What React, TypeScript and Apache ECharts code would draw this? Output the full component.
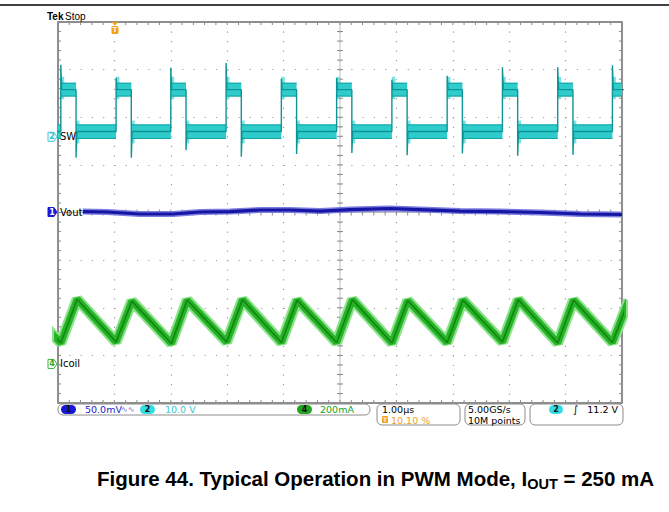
import React, { useEffect, useRef } from "react";
import * as echarts from "echarts";

// ---------------- Screen / scope set-up ----------------
const W = 669;
const H = 512;
const GRID = { left: 58, top: 22, width: 564, height: 381 };
// horizontal axis: time in µs (1.00 µs/div, 10 divisions)
const X_MIN = -5;
const X_MAX = 5;
// vertical axis: screen divisions (8 divisions)
const Y_MIN = -4;
const Y_MAX = 4;
const MINOR_STEP = 0.2; // graticule minor ticks (1/5 div)

// channel scales (from the status bar)
const CH1_SCALE_MV = 50; // 50.0 mV/div
const CH2_SCALE_V = 10; // 10.0 V/div
const CH4_SCALE_MA = 200; // 200 mA/div

// channel markers
const channelNumbers = ["2", "1", "4"];
const channelNames = ["SW", "Vout", "Icoil"];
const channelOffsetsDiv = [1.59, 0.01, -3.18];

const triggerTime = -3.99; // µs (10.10 % of record)

// ---------------- Ch2: SW node (V) ----------------
const swRiseTimes = [-4.95, -3.97, -3.0, -2.02, -1.04, -0.06, 0.92, 1.9, 2.88, 3.86, 4.83];
const swFallTimes = [-4.68, -3.7, -2.73, -1.75, -0.77, 0.21, 1.19, 2.17, 3.15, 4.13, 5.11];
const swOvershootV = [15.1, 12.4, 14.5, 15.5, 12.2, 12.4, 12.0, 12.8, 14.6, 14.6, 15.0];
const swUndershootV = [-4.4, -4.4, -2.8, -4.2, -3.6, -3.4, -3.9, -3.5, -4.0, -3.8, -3.8];
const swHighV = 9.9;
const swLowV = 1.1;
const swHighBandV = [8.45, 11.35];
const swLowBandV = [-0.45, 2.6];
const swHighRingBandV = [7.9, 12.6];
const swLowRingBandV = [-1.4, 3.4];
const swRingTime = 0.06;

// ---------------- Ch1: Vout ripple (mV) ----------------
const voutTimes = [-4.56, -4.13, -3.55, -2.96, -2.48, -1.95, -1.42, -0.89, -0.35, 0.18, 0.89, 1.42, 2.13, 2.84, 3.55, 4.26, 5.0];
const voutMv = [0.5, 0, -2.1, -2.1, 0, 0.5, 2.1, 2.1, 1.0, 2.6, 3.7, 2.6, 1.0, 0.5, -0.5, -2.1, -2.6];

// ---------------- Ch4: inductor current (mA) ----------------
const coilPeakTimes = [-5.67, -4.66, -3.69, -2.71, -1.73, -0.76, 0.22, 1.2, 2.18, 3.16, 4.14, 5.12];
const coilPeakMa = [268, 272, 264, 268, 270, 268, 270, 266, 268, 270, 268, 268];
const coilValleyTimes = [-4.95, -3.97, -2.99, -2.01, -1.04, -0.06, 0.92, 1.9, 2.88, 3.86, 4.83];
const coilValleyMa = [88, 92, 86, 92, 90, 90, 88, 90, 92, 88, 90];

// ---------------- conversions to screen divisions ----------------
const swDiv = (v: number) => channelOffsetsDiv[0] + v / CH2_SCALE_V;
const voutDiv = (mv: number) => channelOffsetsDiv[1] + mv / CH1_SCALE_MV;
const coilDiv = (ma: number) => channelOffsetsDiv[2] + ma / CH4_SCALE_MA;

// SW trace (thin line through the edges and spikes)
const swLine: number[][] = [[-5.3, swDiv(swLowV)]];
swRiseTimes.forEach((r, i) => {
  swLine.push([r, swDiv(swLowV)]);
  swLine.push([r, swDiv(swOvershootV[i])]);
  swLine.push([r + 0.015, swDiv(swHighV)]);
  const f = swFallTimes[i];
  swLine.push([f, swDiv(swHighV)]);
  swLine.push([f, swDiv(swUndershootV[i])]);
  swLine.push([f + 0.015, swDiv(swLowV)]);
});

// SW noise bands: [t0, t1, divLow, divHigh, kind]  kind 0 = plateau, 1 = ringing
const swBands: number[][] = [[-5.3, swRiseTimes[0], swDiv(swLowBandV[0]), swDiv(swLowBandV[1]), 0]];
swRiseTimes.forEach((r, i) => {
  const f = swFallTimes[i];
  const next = i + 1 < swRiseTimes.length ? swRiseTimes[i + 1] : 5.3;
  swBands.push([r, r + swRingTime, swDiv(swHighRingBandV[0]), swDiv(swHighRingBandV[1]), 1]);
  swBands.push([f, f + swRingTime, swDiv(swLowRingBandV[0]), swDiv(swLowRingBandV[1]), 1]);
  swBands.push([r, f, swDiv(swHighBandV[0]), swDiv(swHighBandV[1]), 0]);
  swBands.push([f, next, swDiv(swLowBandV[0]), swDiv(swLowBandV[1]), 0]);
});

const voutData = voutTimes.map((t, i) => [t, voutDiv(voutMv[i])]);

const coilData: number[][] = [];
coilPeakTimes.forEach((t, i) => {
  coilData.push([t, coilDiv(coilPeakMa[i])]);
  if (i < coilValleyTimes.length) coilData.push([coilValleyTimes[i], coilDiv(coilValleyMa[i])]);
});

// ---------------- styles ----------------
const SW_FILL = "#2fcccc";
const SW_RING = "#5fdede";
const SW_EDGE = "#13a3a3";
const SW_DARK = "#0e9494";
const VOUT_CORE = "#1616a4";
const VOUT_HALO = "#7d7de0";
const COIL_HALO = "#8ee28e";
const COIL_MAIN = "#26b426";
const COIL_CORE = "#138313";
const ORANGE = "#f3a21c";
const markerFill = ["#effcfd", "#1a1ad8", "#ffffff"];
const markerStroke = ["#3cc8dc", "#1a1ad8", "#3cb43c"];
const markerText = ["#2fbfd6", "#ffffff", "#2eaa2e"];

const UI_FONT = "DejaVu Sans";

function graticuleItem(params: any, api: any) {
  const cs = params.coordSys;
  const children: any[] = [];
  const c = api.coord([0, 0]);
  const t = 3;
  const ls = { stroke: "#bdbdbd", lineWidth: 1 };
  const ts = { stroke: "#8a8a8a", lineWidth: 1 };
  const line = (x1: number, y1: number, x2: number, y2: number, style: any) =>
    children.push({ type: "line", shape: { x1, y1, x2, y2 }, style });
  line(c[0], cs.y, c[0], cs.y + cs.height, ls);
  line(cs.x, c[1], cs.x + cs.width, c[1], ls);
  const nx = Math.round((X_MAX - X_MIN) / MINOR_STEP);
  for (let k = 0; k <= nx; k++) {
    const p = api.coord([X_MIN + k * MINOR_STEP, 0]);
    line(p[0], c[1] - t, p[0], c[1] + t, ts);
    line(p[0], cs.y, p[0], cs.y + t, ts);
    line(p[0], cs.y + cs.height - t, p[0], cs.y + cs.height, ts);
  }
  const ny = Math.round((Y_MAX - Y_MIN) / MINOR_STEP);
  for (let k = 0; k <= ny; k++) {
    const p = api.coord([0, Y_MIN + k * MINOR_STEP]);
    line(c[0] - t, p[1], c[0] + t, p[1], ts);
    line(cs.x, p[1], cs.x + t, p[1], ts);
    line(cs.x + cs.width - t, p[1], cs.x + cs.width, p[1], ts);
  }
  return { type: "group", children };
}

function bandItem(params: any, api: any) {
  const p0 = api.coord([api.value(0), api.value(3)]);
  const p1 = api.coord([api.value(1), api.value(2)]);
  const kind = api.value(4);
  const rect = echarts.graphic.clipRectByRect(
    { x: p0[0], y: p0[1], width: p1[0] - p0[0], height: p1[1] - p0[1] },
    params.coordSys
  );
  if (!rect) return null;
  if (kind === 1) {
    return { type: "rect", shape: rect, style: { fill: SW_RING, opacity: 0.85 } };
  }
  return {
    type: "group",
    children: [
      { type: "rect", shape: rect, style: { fill: SW_FILL } },
      { type: "line", shape: { x1: rect.x, y1: rect.y + 0.5, x2: rect.x + rect.width, y2: rect.y + 0.5 }, style: { stroke: SW_EDGE, lineWidth: 1 } },
      { type: "line", shape: { x1: rect.x, y1: rect.y + rect.height - 0.5, x2: rect.x + rect.width, y2: rect.y + rect.height - 0.5 }, style: { stroke: SW_EDGE, lineWidth: 1 } },
    ],
  };
}

function markerItem(params: any, api: any) {
  const i = params.dataIndex;
  const p = api.coord([api.value(0), api.value(1)]);
  const x = p[0];
  const y = p[1];
  return {
    type: "group",
    children: [
      {
        type: "polygon",
        shape: { points: [[x - 10, y - 4.5], [x - 4, y - 4.5], [x - 1, y], [x - 4, y + 4.5], [x - 10, y + 4.5]] },
        style: { fill: markerFill[i], stroke: markerStroke[i], lineWidth: 1 },
      },
      {
        type: "text",
        x: x - 6,
        y: y,
        style: { text: channelNumbers[i], fill: markerText[i], font: `bold 8px ${UI_FONT}`, align: "center", verticalAlign: "middle" },
      },
      {
        type: "text",
        x: x + 2,
        y: y,
        style: { text: channelNames[i], fill: "#000", font: `10px ${UI_FONT}`, align: "left", verticalAlign: "middle" },
      },
    ],
  };
}

function triggerItem(params: any, api: any) {
  const p = api.coord([api.value(0), Y_MAX]);
  const x = p[0];
  const y = p[1];
  return {
    type: "group",
    children: [
      { type: "polygon", shape: { points: [[x - 3.5, y], [x + 3.5, y], [x, y + 3.5]] }, style: { fill: ORANGE } },
      { type: "rect", shape: { x: x - 3.5, y: y + 4, width: 7, height: 8, r: 1.5 }, style: { fill: ORANGE } },
      { type: "text", x: x, y: y + 8.2, style: { text: "T", fill: "#fff3d6", font: `bold 7px ${UI_FONT}`, align: "center", verticalAlign: "middle" } },
    ],
  };
}

const txt = (x: number, y: number, text: string, fill: string, size = 9.5, align = "left", weight = "normal", family = UI_FONT) => ({
  type: "text",
  x,
  y,
  style: { text, fill, font: `${weight} ${size}px ${family}`, align, verticalAlign: "middle" },
});
const box = (x: number, y: number, w: number, h: number) => ({
  type: "rect",
  shape: { x, y, width: w, height: h, r: 5 },
  style: { fill: "#fff", stroke: "#8c8c8c", lineWidth: 1 },
});
const pill = (x: number, y: number, w: number, fill: string, label: string) => ({
  type: "group",
  children: [
    { type: "rect", shape: { x, y, width: w, height: 9, r: 4.5 }, style: { fill } },
    { type: "text", x: x + w / 2, y: y + 4.7, style: { text: label, fill: "#111", font: `bold 8px ${UI_FONT}`, align: "center", verticalAlign: "middle" } },
  ],
});

const bottom = GRID.top + GRID.height;

const graphics: any[] = [
  { type: "line", shape: { x1: 0, y1: 5, x2: W, y2: 5 }, style: { stroke: "#000", lineWidth: 1.5 } },
  txt(47, 16, "Tek", "#000", 10, "left", "bold", "Liberation Sans"),
  txt(65, 16, "Stop", "#000", 10, "left", "normal", "Liberation Sans"),
  // status bar
  box(GRID.left, bottom + 1, 312, 11),
  pill(61, bottom + 2, 15, "#1818d8", "1"),
  txt(85, bottom + 6.7, "50.0mV", "#2323c8"),
  txt(121, bottom + 6.2, "∿∿", "#6a6ad0", 8),
  pill(140, bottom + 2, 15, "#33dde6", "2"),
  txt(165, bottom + 6.7, "10.0 V", "#38c8d8"),
  pill(297, bottom + 2, 15, "#22a322", "4"),
  txt(320, bottom + 6.7, "200mA", "#22a022"),
  box(377, bottom + 1, 83, 21),
  txt(382, bottom + 6.7, "1.00µs", "#000"),
  { type: "rect", shape: { x: 382, y: bottom + 13, width: 6, height: 7, r: 1 }, style: { fill: ORANGE } },
  txt(385, bottom + 16.7, "T", "#fff3d6", 6, "center", "bold"),
  txt(391, bottom + 17, "10.10 %", "#f0a020"),
  box(465, bottom + 1, 60, 21),
  txt(468, bottom + 6.7, "5.00GS/s", "#000"),
  txt(468, bottom + 17, "10M points", "#000"),
  box(530, bottom + 1, 93, 21),
  pill(549, bottom + 2, 14, "#33dde6", "2"),
  txt(573, bottom + 6.7, "∫", "#000", 10),
  txt(618, bottom + 6.7, "11.2 V", "#000", 9.5, "right"),
  // caption
  {
    type: "text",
    x: 97,
    y: 478,
    style: {
      text: "{a|Figure 44. Typical Operation in PWM Mode, I}{s|OUT}{a| = 250 mA}",
      verticalAlign: "middle",
      align: "left",
      rich: {
        a: { fontSize: 20.5, fontWeight: "bold", fontFamily: "Liberation Sans", fill: "#000" },
        s: { fontSize: 14.5, fontWeight: "bold", fontFamily: "Liberation Sans", fill: "#000", padding: [12, 0, 0, 0] },
      },
    },
  },
];

const option: any = {
  animation: false,
  backgroundColor: "#ffffff",
  grid: {
    left: GRID.left,
    top: GRID.top,
    width: GRID.width,
    height: GRID.height,
    show: true,
    borderColor: "#6a6a6a",
    borderWidth: 1.5,
    backgroundColor: "transparent",
  },
  xAxis: {
    type: "value",
    min: X_MIN,
    max: X_MAX,
    interval: 1,
    axisLine: { show: false },
    axisTick: { show: false },
    axisLabel: { show: false },
    splitLine: { show: true, lineStyle: { color: "#9c9c9c", width: 1.2, type: [1.2, 8.325] } },
  },
  yAxis: {
    type: "value",
    min: Y_MIN,
    max: Y_MAX,
    interval: 1,
    axisLine: { show: false },
    axisTick: { show: false },
    axisLabel: { show: false },
    splitLine: { show: true, lineStyle: { color: "#9c9c9c", width: 1.2, type: [1.2, 10.08] } },
  },
  series: [
    { type: "custom", name: "graticule", silent: true, z: 1, renderItem: graticuleItem, data: [[0, 0]], encode: { x: 0, y: 1 } },
    { type: "line", name: "Icoil halo", data: coilData, showSymbol: false, z: 3, lineStyle: { color: COIL_HALO, width: 11 } },
    { type: "line", name: "Icoil", data: coilData, showSymbol: false, z: 4, lineStyle: { color: COIL_MAIN, width: 7 } },
    { type: "line", name: "Icoil core", data: coilData, showSymbol: false, z: 5, lineStyle: { color: COIL_CORE, width: 1.6 } },
    { type: "line", name: "Vout halo", data: voutData, showSymbol: false, z: 6, lineStyle: { color: VOUT_HALO, width: 6 } },
    { type: "line", name: "Vout", data: voutData, showSymbol: false, z: 7, lineStyle: { color: VOUT_CORE, width: 3.2 } },
    { type: "custom", name: "SW band", z: 8, renderItem: bandItem, data: swBands, encode: { x: [0, 1], y: [2, 3] } },
    { type: "line", name: "SW", data: swLine, showSymbol: false, z: 9, lineStyle: { color: SW_DARK, width: 1.4 } },
    { type: "custom", name: "markers", z: 10, renderItem: markerItem, data: channelOffsetsDiv.map((d) => [X_MIN, d]), encode: { x: 0, y: 1 } },
    { type: "custom", name: "trigger", z: 10, renderItem: triggerItem, data: [[triggerTime, Y_MAX]], encode: { x: 0, y: 1 } },
  ],
  graphic: graphics,
};

export default function App() {
  const ref = useRef<HTMLDivElement>(null);
  useEffect(() => {
    if (!ref.current) return;
    const chart = echarts.init(ref.current, undefined, { renderer: "svg" });
    chart.setOption(option);
    return () => chart.dispose();
  }, []);
  return (
    <div
      ref={ref}
      style={{ position: "absolute", left: 0, top: 0, width: W, height: H, background: "#fff" }}
    />
  );
}
